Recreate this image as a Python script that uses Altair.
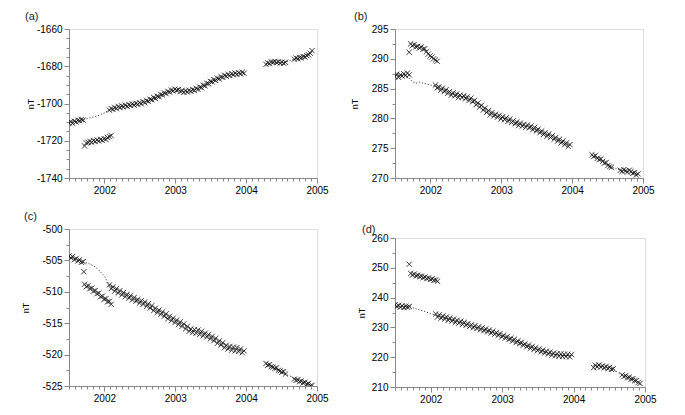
import altair as alt
import pandas as pd

FONT = "Liberation Sans"
STEP = 0.025
T_MAIN1, T_OFFSET, T_MAIN2, T_MAIN3, T_MAIN4 = 2001.50, 2001.72, 2002.07, 2004.28, 2004.68

MODEL1_T = [2001.50, 2001.60, 2001.70, 2001.75, 2001.80, 2001.85, 2001.90, 2002.00, 2002.07,
            2002.20, 2002.30, 2002.40, 2002.50, 2002.60, 2002.70, 2002.80, 2002.90, 2003.00,
            2003.10, 2003.20, 2003.30, 2003.40, 2003.50, 2003.60, 2003.70, 2003.80, 2003.90, 2003.97]
MODEL2_T = [2004.28, 2004.40, 2004.50, 2004.56, 2004.62, 2004.68, 2004.80, 2004.93]

# ---------------- panel (a)
A_MAIN1 = [-1710.4, -1709.8, -1710.6, -1709.5, -1709.9, -1709.0, -1709.3, -1708.6, -1708.9]
A_OFFSET = [-1722.8, -1721.2, -1720.9, -1720.3, -1720.8, -1719.9, -1720.4, -1719.6, -1720.1, -1719.3,
            -1719.8, -1718.9, -1719.2, -1718.3, -1717.8, -1717.2]
A_MAIN2 = [-1703.6, -1702.7, -1703.2, -1702.1, -1702.8, -1701.6, -1702.2, -1701.3, -1701.9, -1700.9,
           -1701.6, -1700.6, -1701.1, -1700.2, -1700.9, -1699.9, -1700.5, -1699.6, -1700.2, -1699.0,
           -1699.6, -1698.4, -1698.9, -1697.7, -1698.1, -1696.8, -1697.3, -1696.1, -1696.4, -1695.1,
           -1695.5, -1694.3, -1694.7, -1693.5, -1693.9, -1692.8, -1693.2, -1692.3, -1692.9, -1692.5,
           -1693.6, -1693.1, -1694.0, -1693.2, -1693.8, -1692.9, -1693.5, -1692.5, -1693.0, -1691.9,
           -1692.4, -1691.2, -1691.5, -1690.2, -1690.5, -1689.2, -1689.4, -1688.1, -1688.4, -1687.2,
           -1687.6, -1686.4, -1686.8, -1685.6, -1686.0, -1684.8, -1685.4, -1684.4, -1685.0, -1684.0,
           -1684.6, -1683.7, -1684.4, -1683.5, -1684.1, -1683.2, -1683.8]
A_MAIN3 = [-1679.0, -1678.2, -1678.6, -1677.7, -1677.9, -1677.4, -1678.1, -1677.6, -1678.3, -1677.8,
           -1678.4, -1677.9]
A_MAIN4 = [-1676.2, -1675.6, -1676.0, -1675.3, -1675.5, -1674.8, -1675.0, -1674.3, -1673.8, -1673.0,
           -1671.6]
A_OUT_T, A_OUT_V = [], []
A_MODEL1 = [-1710.3, -1709.5, -1708.6, -1708.2, -1707.6, -1707.2, -1706.7, -1705.0, -1703.3, -1702.0,
            -1701.3, -1700.6, -1700.0, -1698.8, -1697.2, -1695.5, -1693.8, -1692.6, -1693.5, -1693.2,
            -1692.2, -1690.4, -1688.3, -1686.8, -1685.2, -1684.3, -1683.8, -1683.5]
A_MODEL2 = [-1678.8, -1678.0, -1678.1, -1677.8, -1677.0, -1676.2, -1675.0, -1671.8]

# ---------------- panel (b)
B_MAIN1 = [287.0, 287.4, 286.9, 287.3, 287.1, 287.5, 287.2, 287.6, 287.3]
B_OFFSET = [292.5, 292.2, 292.4, 292.0, 292.1, 291.8, 292.0, 291.6, 291.7, 291.2,
            290.8, 290.5, 290.3, 290.0, 289.8, 289.6]
B_MAIN2 = [285.6, 285.1, 285.3, 284.7, 285.1, 284.5, 284.8, 284.2, 284.5, 283.9,
           284.3, 283.8, 284.1, 283.5, 283.9, 283.5, 283.8, 283.3, 283.6, 283.0,
           283.4, 282.8, 283.0, 282.3, 282.6, 281.9, 282.2, 281.4, 281.7, 281.0,
           281.3, 280.6, 281.0, 280.4, 280.7, 280.2, 280.5, 279.9, 280.3, 279.8,
           280.1, 279.5, 279.9, 279.3, 279.6, 279.1, 279.4, 278.8, 279.2, 278.7,
           279.0, 278.5, 278.9, 278.4, 278.7, 278.1, 278.5, 277.9, 278.2, 277.6,
           277.9, 277.3, 277.6, 277.0, 277.4, 276.8, 277.1, 276.5, 276.8, 276.2,
           276.5, 275.9, 276.2, 275.6, 275.9, 275.3, 275.6]
B_MAIN3 = [273.9, 273.6, 273.8, 273.3, 273.1, 273.2, 272.8, 272.5, 272.6, 272.1, 271.9, 271.8]
B_MAIN4 = [271.3, 271.1, 271.4, 271.2, 271.0, 271.3, 271.1, 270.8, 270.9, 270.5, 270.7]
B_OUT_T, B_OUT_V = [2001.70], [291.1]
B_MODEL1 = [287.2, 287.3, 286.8, 286.1, 285.9, 286.1, 285.9, 285.6, 285.4, 284.7,
            284.2, 283.8, 283.5, 283.0, 282.2, 281.2, 280.6, 280.2, 279.8, 279.3,
            278.9, 278.6, 278.1, 277.5, 277.0, 276.4, 275.8, 275.4]
B_MODEL2 = [273.8, 273.0, 272.3, 271.8, 271.6, 271.3, 271.1, 270.6]

# ---------------- panel (c)
C_MAIN1 = [-504.3, -504.6, -504.4, -504.9, -504.7, -505.1, -504.9, -505.3, -505.2]
C_OFFSET = [-508.8, -509.2, -509.0, -509.5, -509.4, -509.9, -509.8, -510.3, -510.2, -510.8,
            -510.7, -511.2, -511.1, -511.6, -511.5, -512.0]
C_MAIN2 = [-508.9, -509.5, -509.2, -509.9, -509.5, -510.2, -509.8, -510.5, -510.1, -510.8,
           -510.4, -511.0, -510.6, -511.3, -510.9, -511.5, -511.2, -511.8, -511.4, -512.0,
           -511.6, -512.3, -511.9, -512.6, -512.2, -513.0, -512.6, -513.3, -512.9, -513.6,
           -513.2, -513.9, -513.5, -514.3, -513.9, -514.6, -514.2, -514.9, -514.5, -515.2,
           -514.8, -515.5, -515.1, -515.9, -515.5, -516.3, -515.9, -516.5, -516.0, -516.6,
           -516.1, -516.8, -516.3, -517.0, -516.6, -517.2, -516.8, -517.5, -517.1, -517.8,
           -517.4, -518.2, -517.8, -518.5, -518.1, -518.9, -518.5, -519.1, -518.7, -519.3,
           -518.8, -519.4, -518.9, -519.5, -519.1, -519.7, -519.4]
C_MAIN3 = [-521.4, -521.7, -521.6, -521.9, -522.0, -522.2, -522.1, -522.5, -522.6, -522.8,
           -522.7, -523.1]
C_MAIN4 = [-523.9, -524.1, -524.0, -524.3, -524.2, -524.5, -524.4, -524.7, -524.6, -525.0, -524.9]
C_OUT_T, C_OUT_V = [2001.71], [-506.8]
C_MODEL1 = [-504.4, -504.8, -505.3, -505.4, -505.6, -505.9, -506.3, -507.5, -509.0, -509.9,
            -510.5, -511.0, -511.5, -512.0, -512.7, -513.3, -514.0, -514.6, -515.2, -516.0,
            -516.3, -516.7, -517.2, -517.9, -518.6, -519.0, -519.2, -519.5]
C_MODEL2 = [-521.5, -522.2, -522.8, -523.2, -523.4, -523.8, -524.3, -525.0]

# ---------------- panel (d)
D_MAIN1 = [237.6, 237.0, 237.4, 236.8, 237.2, 236.7, 237.1, 236.8, 237.0]
D_OFFSET = [248.1, 247.6, 247.9, 247.3, 247.5, 247.0, 247.2, 246.7, 246.9, 246.4,
            246.6, 246.1, 246.3, 245.8, 245.9, 245.5]
D_MAIN2 = [234.5, 233.5, 234.2, 233.1, 233.8, 232.8, 233.5, 232.4, 233.1, 232.1,
           232.8, 231.7, 232.4, 231.4, 232.1, 231.0, 231.7, 230.7, 231.3, 230.3,
           230.9, 229.9, 230.6, 229.6, 230.2, 229.2, 229.9, 228.9, 229.5, 228.5,
           229.1, 228.1, 228.7, 227.7, 228.3, 227.3, 227.9, 226.8, 227.4, 226.4,
           226.9, 225.9, 226.4, 225.4, 226.0, 224.9, 225.5, 224.5, 225.0, 224.0,
           224.5, 223.5, 224.1, 223.0, 223.6, 222.6, 223.2, 222.2, 222.8, 221.8,
           222.4, 221.4, 222.0, 221.1, 221.7, 220.7, 221.4, 220.5, 221.2, 220.3,
           221.1, 220.2, 221.0, 220.2, 221.0, 220.1, 220.9]
D_MAIN3 = [216.5, 217.3, 216.8, 217.4, 216.7, 217.1, 216.4, 216.9, 216.2, 216.6, 215.9, 216.1]
D_MAIN4 = [214.1, 213.5, 213.8, 213.1, 213.3, 212.6, 212.8, 212.1, 212.2, 211.5, 211.2]
D_OUT_T, D_OUT_V = [2001.70], [251.2]
D_MODEL1 = [237.3, 237.0, 237.0, 236.6, 236.2, 235.8, 235.5, 234.6, 234.1, 233.2,
            232.5, 231.8, 231.1, 230.3, 229.6, 228.9, 228.1, 227.2, 226.2, 225.3,
            224.3, 223.4, 222.6, 221.8, 221.1, 220.7, 220.6, 220.6]
D_MODEL2 = [217.2, 217.0, 216.5, 216.0, 214.8, 214.0, 212.8, 211.2]

X_TICKS = [2001.5 + k / 12 for k in range(43)]
IS_YEAR = "abs(datum.value - round(datum.value)) < 0.001"
CROSS = "M-1,-1L1,1M-1,1L1,-1"


def seg(t0, vals):
    return [(t0 + i * STEP, v) for i, v in enumerate(vals)]


def panel(label, main1, offset, main2, main3, main4, out_t, out_v, m1, m2,
          ydom, ymajor, yminor, w, h, ntx, tdx, tdy):
    rows = (seg(T_MAIN1, main1) + seg(T_OFFSET, offset) + seg(T_MAIN2, main2)
            + seg(T_MAIN3, main3) + seg(T_MAIN4, main4) + list(zip(out_t, out_v)))
    crosses = pd.DataFrame(rows, columns=["t", "v"])
    model = pd.DataFrame(
        [(t, v, 1) for t, v in zip(MODEL1_T, m1)] + [(t, v, 2) for t, v in zip(MODEL2_T, m2)],
        columns=["t", "v", "part"])
    n = int(round((ydom[1] - ydom[0]) / yminor))
    yvals = [ydom[0] + k * yminor for k in range(n + 1)]
    ytest = f"abs(datum.value / {ymajor} - round(datum.value / {ymajor})) < 0.001"
    x = alt.X("t:Q", scale=alt.Scale(domain=[2001.5, 2005.0], nice=False, zero=False),
              axis=alt.Axis(values=X_TICKS, title=None, grid=False, labelOverlap=False,
                            labelFlush=False, labelPadding=2,
                            labelExpr=f"{IS_YEAR} ? '' + round(datum.value) : ''",
                            tickSize={"condition": {"test": IS_YEAR, "value": 5}, "value": 3}))
    y = alt.Y("v:Q", scale=alt.Scale(domain=ydom, nice=False, zero=False),
              axis=alt.Axis(values=yvals, title="nT", grid=False, labelOverlap=False,
                            labelFlush=False, labelPadding=2,
                            labelExpr=f"{ytest} ? '' + round(datum.value) : ''",
                            tickSize={"condition": {"test": ytest, "value": 5}, "value": 3},
                            titleX=ntx, titleY=h / 2, titleAngle=270, titleBaseline="middle",
                            titleFontSize=9, titleFontWeight="normal"))
    pts = alt.Chart(crosses).mark_point(shape=CROSS, filled=False, size=28, strokeWidth=0.9,
                                        color="#111", opacity=0.9, clip=True).encode(x=x, y=y)
    line = alt.Chart(model).mark_line(strokeDash=[1, 2], strokeWidth=1, color="#222",
                                      clip=True).encode(x=x, y=y, detail="part:N")
    return alt.layer(line, pts).properties(
        width=w, height=h,
        title=alt.TitleParams(label, anchor="start", frame="group", dx=tdx, dy=tdy, offset=2,
                              fontSize=11, fontWeight="normal", font=FONT, color="#222"))


pa = panel("(a)", A_MAIN1, A_OFFSET, A_MAIN2, A_MAIN3, A_MAIN4, A_OUT_T, A_OUT_V, A_MODEL1, A_MODEL2,
           [-1740, -1660], 20, 5, 248, 149, -39, -44, 0)
pb = panel("(b)", B_MAIN1, B_OFFSET, B_MAIN2, B_MAIN3, B_MAIN4, B_OUT_T, B_OUT_V, B_MODEL1, B_MODEL2,
           [270, 295], 5, 2.5, 248, 149, -41, -41, 0)
pc = panel("(c)", C_MAIN1, C_OFFSET, C_MAIN2, C_MAIN3, C_MAIN4, C_OUT_T, C_OUT_V, C_MODEL1, C_MODEL2,
           [-525, -500], 5, 2.5, 248, 157, -44, -45, 0)
pd_ = panel("(d)", D_MAIN1, D_OFFSET, D_MAIN2, D_MAIN3, D_MAIN4, D_OUT_T, D_OUT_V, D_MODEL1, D_MODEL2,
            [210, 260], 10, 5, 250, 149, -34, -33, 4)

left = alt.vconcat(pa, pc, spacing=51, bounds="flush")
right = alt.vconcat(pb, pd_, spacing=60, bounds="flush")
chart = alt.hconcat(left, right, spacing=20).properties(
    padding={"left": 12, "top": 2, "right": 5, "bottom": 5}
).configure_view(strokeWidth=0, stroke="transparent").configure_axis(
    domainColor="#333", tickColor="#333", labelColor="#222", titleColor="#222",
    labelFont=FONT, titleFont=FONT, labelFontSize=11, domainWidth=1, tickWidth=1
).configure(background="white")

chart.save("out.html", embed_options={"renderer": "svg", "actions": False})
